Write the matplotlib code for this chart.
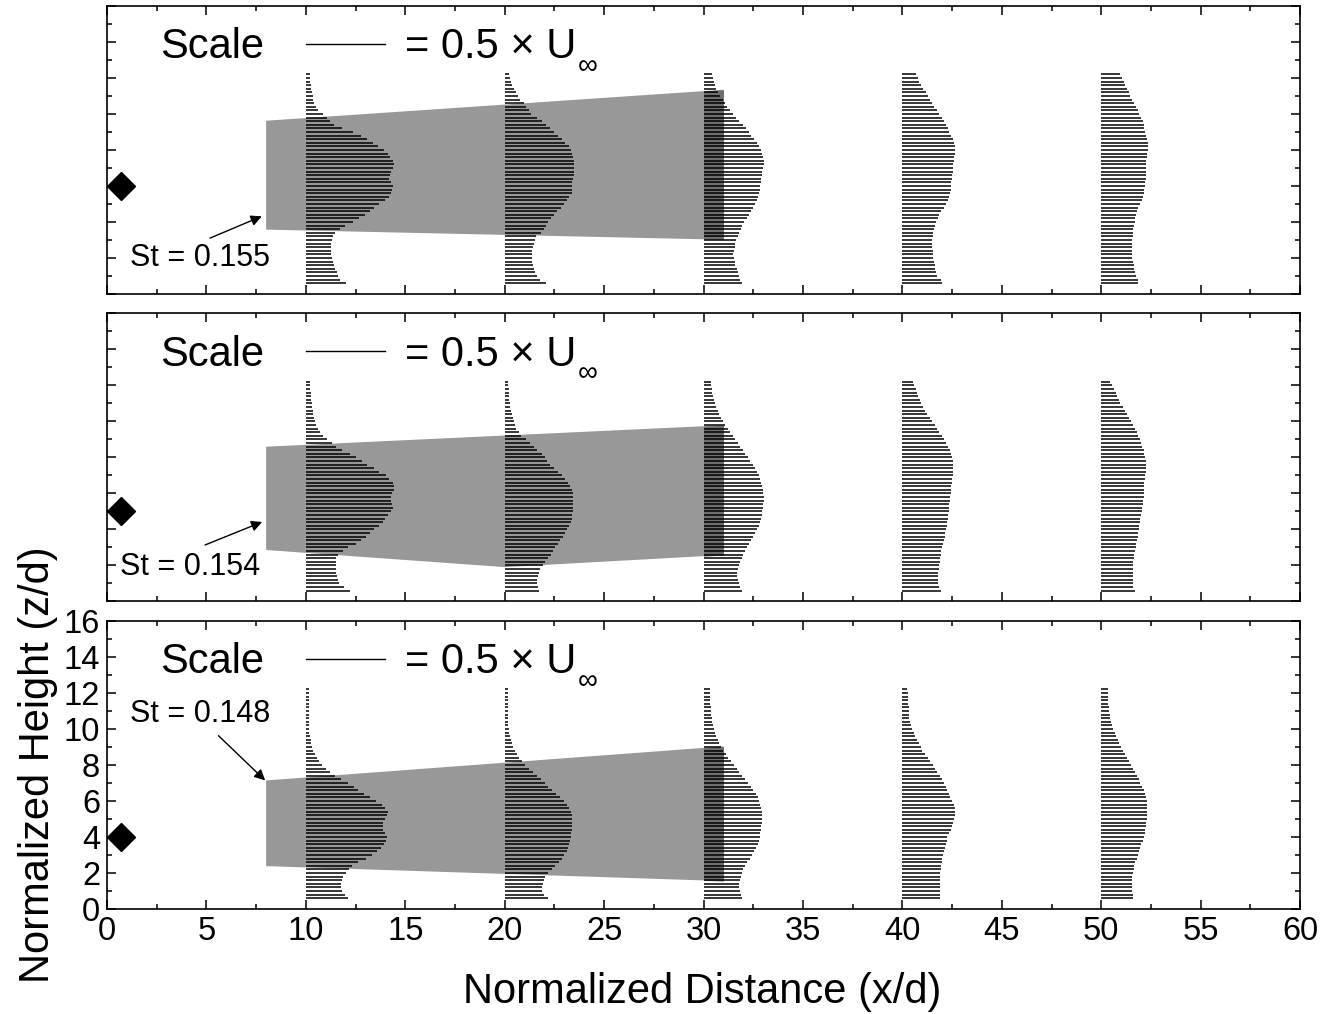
import numpy as np
import matplotlib
matplotlib.use("Agg")
import matplotlib.pyplot as plt
from matplotlib.ticker import MultipleLocator

plt.rcParams["font.family"] = ["Liberation Sans", "DejaVu Sans"]

# measurement heights z/d of the profile lines (same grid at every station)
Z = np.round(np.arange(0.6, 12.21, 0.2), 1)
STATIONS = [10, 20, 30, 40, 50]

# line lengths in x/d units (scale bar: 4 x/d = 0.5 U_inf), bottom to top
top_x10 = [2.0, 1.7, 1.6, 1.55, 1.45, 1.4, 1.35, 1.3, 1.27, 1.26,
           1.26, 1.27, 1.29, 1.35, 1.46, 1.7, 1.96, 2.35, 2.65, 2.95,
           3.2, 3.45, 3.7, 4.0, 4.2, 4.3, 4.35, 4.39, 4.3, 4.2,
           4.25, 4.3, 4.4, 4.43, 4.4, 4.25, 4.15, 3.95, 3.65, 3.35,
           3.05, 2.75, 2.35, 1.8, 1.4, 1.2, 1.04, 0.85, 0.62, 0.5,
           0.43, 0.38, 0.34, 0.3, 0.28, 0.25, 0.23, 0.21, 0.2]
top_x20 = [2.1, 1.75, 1.62, 1.5, 1.45, 1.4, 1.38, 1.37, 1.37, 1.37,
           1.4, 1.45, 1.5, 1.56, 1.8, 1.95, 2.08, 2.2, 2.35, 2.5,
           2.65, 2.82, 2.98, 3.12, 3.25, 3.38, 3.39, 3.39, 3.4, 3.44,
           3.46, 3.47, 3.49, 3.5, 3.48, 3.45, 3.4, 3.33, 3.22, 3.05,
           2.88, 2.68, 2.48, 2.3, 2.1, 1.85, 1.6, 1.33, 1.2, 1.08,
           0.95, 0.78, 0.65, 0.55, 0.45, 0.38, 0.32, 0.25, 0.2]
top_x30 = [1.93, 1.85, 1.76, 1.72, 1.66, 1.6, 1.56, 1.53, 1.5, 1.52,
           1.56, 1.58, 1.62, 1.72, 1.8, 1.88, 1.95, 2.05, 2.2, 2.3,
           2.4, 2.5, 2.6, 2.7, 2.76, 2.8, 2.83, 2.86, 2.88, 2.9,
           2.92, 2.95, 3.0, 3.02, 3.02, 3.0, 2.96, 2.88, 2.8, 2.68,
           2.55, 2.4, 2.26, 2.12, 1.98, 1.8, 1.65, 1.48, 1.35, 1.2,
           1.08, 0.98, 0.85, 0.75, 0.65, 0.58, 0.52, 0.46, 0.42]
top_x40 = [2.0, 1.95, 1.75, 1.7, 1.65, 1.62, 1.58, 1.56, 1.54, 1.52,
           1.51, 1.51, 1.51, 1.52, 1.54, 1.6, 1.64, 1.7, 1.77, 1.85,
           1.95, 2.1, 2.2, 2.28, 2.35, 2.41, 2.44, 2.46, 2.46, 2.47,
           2.5, 2.52, 2.54, 2.56, 2.58, 2.6, 2.63, 2.63, 2.62, 2.6,
           2.55, 2.45, 2.35, 2.28, 2.2, 2.1, 2.0, 1.85, 1.75, 1.6,
           1.5, 1.38, 1.28, 1.2, 1.05, 0.93, 0.85, 0.77, 0.7]
top_x50 = [1.85, 1.83, 1.76, 1.71, 1.66, 1.63, 1.6, 1.57, 1.55, 1.54,
           1.54, 1.55, 1.57, 1.58, 1.59, 1.61, 1.63, 1.68, 1.72, 1.77,
           1.81, 1.86, 1.95, 2.04, 2.1, 2.13, 2.17, 2.21, 2.22, 2.23,
           2.23, 2.24, 2.25, 2.25, 2.26, 2.28, 2.3, 2.33, 2.35, 2.33,
           2.3, 2.25, 2.21, 2.17, 2.13, 2.08, 2.02, 1.92, 1.83, 1.74,
           1.65, 1.55, 1.47, 1.38, 1.28, 1.2, 1.12, 1.03, 0.96]

mid_x10 = [2.2, 1.9, 1.68, 1.6, 1.56, 1.53, 1.51, 1.51, 1.51, 1.51,
           1.6, 1.85, 2.1, 2.5, 2.78, 3.0, 3.2, 3.44, 3.7, 3.88,
           4.0, 4.12, 4.3, 4.38, 4.32, 4.28, 4.28, 4.35, 4.44, 4.42,
           4.36, 4.2, 4.02, 3.7, 3.4, 3.05, 2.8, 2.5, 2.2, 1.8,
           1.5, 1.3, 1.05, 0.84, 0.7, 0.59, 0.5, 0.45, 0.42, 0.38,
           0.35, 0.32, 0.3, 0.28, 0.26, 0.24, 0.23, 0.22, 0.22]
mid_x20 = [1.7, 1.65, 1.62, 1.62, 1.65, 1.7, 1.78, 1.9, 2.05, 2.2,
           2.32, 2.45, 2.55, 2.68, 2.8, 2.92, 3.05, 3.15, 3.25, 3.32,
           3.38, 3.4, 3.42, 3.42, 3.43, 3.45, 3.45, 3.42, 3.38, 3.3,
           3.2, 3.05, 2.88, 2.7, 2.5, 2.3, 2.15, 2.0, 1.85, 1.62,
           1.45, 1.28, 1.05, 0.84, 0.7, 0.59, 0.5, 0.45, 0.4, 0.35,
           0.3, 0.27, 0.25, 0.22, 0.21, 0.2, 0.19, 0.18, 0.17]
mid_x30 = [1.95, 1.85, 1.78, 1.72, 1.7, 1.7, 1.72, 1.78, 1.85, 1.92,
           2.0, 2.1, 2.2, 2.3, 2.4, 2.5, 2.6, 2.7, 2.78, 2.85,
           2.9, 2.93, 2.96, 2.98, 3.0, 3.02, 3.02, 3.0, 2.97, 2.95,
           2.9, 2.85, 2.78, 2.7, 2.6, 2.48, 2.35, 2.22, 2.1, 1.98,
           1.85, 1.72, 1.6, 1.48, 1.35, 1.22, 1.1, 1.0, 0.9, 0.8,
           0.72, 0.65, 0.58, 0.52, 0.47, 0.43, 0.4, 0.37, 0.35]
mid_x40 = [1.95, 1.85, 1.8, 1.78, 1.78, 1.8, 1.82, 1.85, 1.88, 1.9,
           1.93, 1.96, 2.0, 2.04, 2.08, 2.12, 2.15, 2.18, 2.22, 2.25,
           2.28, 2.3, 2.32, 2.34, 2.36, 2.38, 2.4, 2.42, 2.44, 2.46,
           2.48, 2.5, 2.52, 2.54, 2.55, 2.55, 2.53, 2.5, 2.45, 2.38,
           2.3, 2.2, 2.1, 1.98, 1.86, 1.74, 1.62, 1.5, 1.38, 1.26,
           1.15, 1.05, 0.95, 0.86, 0.78, 0.72, 0.66, 0.6, 0.55]
mid_x50 = [1.71, 1.62, 1.59, 1.59, 1.59, 1.59, 1.59, 1.59, 1.6, 1.63,
           1.67, 1.71, 1.74, 1.76, 1.8, 1.83, 1.86, 1.89, 1.92, 1.94,
           1.96, 1.99, 2.05, 2.07, 2.1, 2.12, 2.13, 2.13, 2.13, 2.15,
           2.17, 2.2, 2.22, 2.25, 2.26, 2.26, 2.24, 2.21, 2.17, 2.13,
           2.07, 2.0, 1.94, 1.87, 1.78, 1.7, 1.6, 1.48, 1.38, 1.28,
           1.18, 1.1, 0.96, 0.9, 0.79, 0.72, 0.62, 0.52, 0.45]

bot_x10 = [2.1, 1.95, 1.8, 1.79, 1.79, 1.82, 1.88, 2.0, 2.15, 2.3,
           2.6, 3.0, 3.3, 3.58, 3.8, 3.95, 4.02, 4.06, 3.98, 3.89,
           3.88, 3.9, 4.0, 4.08, 4.12, 4.0, 3.85, 3.55, 3.22, 2.9,
           2.63, 2.4, 2.1, 1.75, 1.45, 1.2, 1.0, 0.8, 0.65, 0.54,
           0.45, 0.37, 0.32, 0.28, 0.24, 0.2, 0.18, 0.16, 0.15, 0.15,
           0.15, 0.15, 0.15, 0.15, 0.15, 0.15, 0.15, 0.15, 0.15]
bot_x20 = [2.2, 1.95, 1.88, 1.85, 1.9, 1.95, 2.05, 2.2, 2.38, 2.55,
           2.72, 2.88, 3.0, 3.12, 3.2, 3.25, 3.3, 3.33, 3.35, 3.36,
           3.38, 3.4, 3.4, 3.38, 3.33, 3.25, 3.12, 2.98, 2.8, 2.6,
           2.4, 2.2, 2.0, 1.8, 1.6, 1.4, 1.2, 1.02, 0.86, 0.72,
           0.6, 0.5, 0.42, 0.36, 0.3, 0.26, 0.22, 0.2, 0.18, 0.17,
           0.16, 0.15, 0.15, 0.15, 0.15, 0.15, 0.15, 0.15, 0.15]
bot_x30 = [1.95, 1.88, 1.82, 1.8, 1.8, 1.82, 1.86, 1.92, 2.0, 2.1,
           2.2, 2.32, 2.45, 2.55, 2.65, 2.72, 2.78, 2.82, 2.86, 2.88,
           2.9, 2.92, 2.93, 2.93, 2.92, 2.9, 2.86, 2.8, 2.72, 2.62,
           2.5, 2.36, 2.22, 2.08, 1.94, 1.8, 1.66, 1.52, 1.38, 1.25,
           1.12, 1.0, 0.9, 0.8, 0.72, 0.65, 0.58, 0.52, 0.47, 0.43,
           0.4, 0.38, 0.36, 0.35, 0.34, 0.33, 0.32, 0.32, 0.32]
bot_x40 = [1.89, 1.89, 1.88, 1.88, 1.88, 1.89, 1.89, 1.91, 1.93, 1.95,
           1.97, 2.0, 2.04, 2.09, 2.13, 2.18, 2.22, 2.26, 2.36, 2.43,
           2.48, 2.53, 2.6, 2.63, 2.63, 2.62, 2.58, 2.5, 2.4, 2.33,
           2.26, 2.18, 2.1, 2.0, 1.9, 1.74, 1.65, 1.55, 1.4, 1.27,
           1.15, 1.0, 0.92, 0.84, 0.72, 0.65, 0.57, 0.5, 0.42, 0.38,
           0.35, 0.34, 0.32, 0.31, 0.29, 0.28, 0.27, 0.26, 0.25]
bot_x50 = [1.6, 1.58, 1.56, 1.55, 1.55, 1.56, 1.57, 1.6, 1.63, 1.67,
           1.72, 1.78, 1.84, 1.9, 1.96, 2.02, 2.08, 2.13, 2.18, 2.22,
           2.25, 2.27, 2.28, 2.29, 2.3, 2.3, 2.3, 2.28, 2.25, 2.2,
           2.13, 2.05, 1.97, 1.88, 1.78, 1.68, 1.58, 1.48, 1.38, 1.28,
           1.18, 1.08, 0.98, 0.9, 0.82, 0.74, 0.67, 0.6, 0.55, 0.5,
           0.46, 0.42, 0.39, 0.37, 0.35, 0.34, 0.33, 0.32, 0.32]

# shaded shear-layer regions: upper edge and lower edge as (x, z/d)
top_upper_x, top_upper_z = [8, 31], [9.63, 11.35]
top_lower_x, top_lower_z = [8, 31], [3.58, 3.02]
mid_upper_x, mid_upper_z = [8, 31], [8.59, 9.78]
mid_lower_x, mid_lower_z = [8, 20, 31], [2.85, 1.9, 2.57]
bot_upper_x, bot_upper_z = [8, 31], [7.14, 9.03]
bot_lower_x, bot_lower_z = [8, 31], [2.38, 1.55]

source_z = [6, 5, 4]
strouhal = ["St = 0.155", "St = 0.154", "St = 0.148"]
st_text_xy = [(1.16, 2.0), (0.65, 1.9), (1.16, 10.85)]
st_arrow_tail = [(5.18, 3.11), (4.93, 3.13), (5.6, 9.63)]
st_arrow_head = [(7.78, 4.32), (7.8, 4.41), (7.95, 7.14)]

panels = [
    ([top_x10, top_x20, top_x30, top_x40, top_x50],
     (top_upper_x, top_upper_z), (top_lower_x, top_lower_z)),
    ([mid_x10, mid_x20, mid_x30, mid_x40, mid_x50],
     (mid_upper_x, mid_upper_z), (mid_lower_x, mid_lower_z)),
    ([bot_x10, bot_x20, bot_x30, bot_x40, bot_x50],
     (bot_upper_x, bot_upper_z), (bot_lower_x, bot_lower_z)),
]

fig = plt.figure(figsize=(13.25, 10.14), dpi=100)
bottoms = [0.710, 0.407, 0.1036]

for i, (profiles, upper, lower) in enumerate(panels):
    ax = fig.add_axes([0.0808, bottoms[i], 0.9004, 0.284])
    ax.set_xlim(0, 60)
    ax.set_ylim(0, 16)

    # shaded region: walk the upper edge, then the lower edge backwards
    px = list(upper[0]) + list(lower[0])[::-1]
    pz = list(upper[1]) + list(lower[1])[::-1]
    ax.fill(px, pz, color="#989898", lw=0, zorder=1)
    # darker strip where the shaded region overlaps the x/d = 30 station
    sx = [30, 31]
    ax.fill_between(sx, np.interp(sx, *lower), np.interp(sx, *upper),
                    color="#6e6e6e", lw=0, zorder=1.5)

    for x0, lengths in zip(STATIONS, profiles):
        ln = np.array(lengths)
        ax.hlines(Z, x0, x0 + ln, colors="black", lw=1.1, zorder=2)

    ax.plot(0.7, source_z[i], marker="D", color="black", ms=14, zorder=3)

    ax.text(2.67, 13.7, "Scale", fontsize=30, va="center", ha="left")
    ax.plot([10, 14], [13.9, 13.9], color="black", lw=1.0)
    t = ax.text(15.0, 13.7, "= 0.5 × U", fontsize=30, va="center", ha="left")
    ax.annotate("∞", xy=(1, 0), xycoords=t, xytext=(1, -9),
                textcoords="offset points", fontsize=20, va="bottom", ha="left")

    ax.text(*st_text_xy[i], strouhal[i], fontsize=22, va="center", ha="left")
    ax.annotate("", xy=st_arrow_head[i], xytext=st_arrow_tail[i],
                arrowprops=dict(arrowstyle="-|>", color="black", lw=1.0,
                                mutation_scale=16, shrinkA=0, shrinkB=0))

    ax.xaxis.set_major_locator(MultipleLocator(5))
    ax.xaxis.set_minor_locator(MultipleLocator(2.5))
    ax.yaxis.set_major_locator(MultipleLocator(2))
    ax.yaxis.set_minor_locator(MultipleLocator(1))
    ax.tick_params(which="both", direction="in", top=True, right=True,
                   width=1.1, labelsize=23.5, pad=5)
    ax.tick_params(which="major", length=6.5)
    ax.tick_params(which="minor", length=3.8)
    for sp in ax.spines.values():
        sp.set_linewidth(1.2)
    if i < 2:
        ax.tick_params(labelbottom=False, labelleft=False)

fig.text(0.53, 1 - 992 / 1014, "Normalized Distance (x/d)", fontsize=30,
         ha="center", va="center")
fig.text(38 / 1325, 1 - 765 / 1014, "Normalized Height (z/d)", fontsize=30,
         ha="center", va="center", rotation=90)

fig.savefig("out.png", dpi=100)
